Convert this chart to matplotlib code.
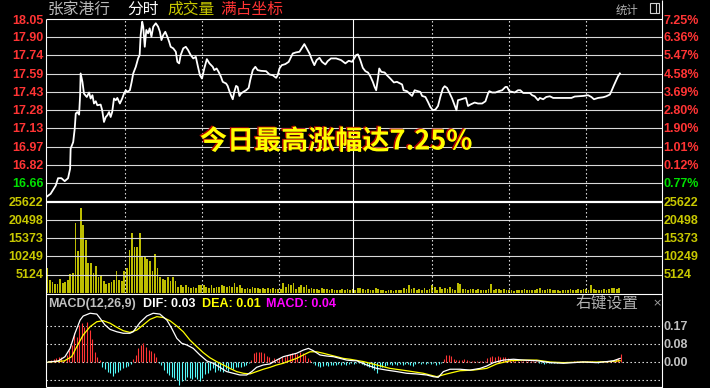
import numpy as np
import matplotlib
matplotlib.use('Agg')
import matplotlib.pyplot as plt
import matplotlib.patheffects as pe
from matplotlib.lines import Line2D
from matplotlib.patches import Rectangle

# ---------------- data ----------------
price_labels = ['18.05', '17.90', '17.74', '17.59', '17.43', '17.28', '17.13', '16.97', '16.82', '16.66']
pct_labels = ['7.25%', '6.36%', '5.47%', '4.58%', '3.69%', '2.80%', '1.90%', '1.01%', '0.12%', '0.77%']
vol_labels = ['25622', '20498', '15373', '10249', '5124']
macd_labels = ['0.17', '0.08', '0.00']

price_min = [0, 1.8, 3.8, 4.7, 6.0, 7.3, 8.6, 9.4, 9.6, 10.6, 11.2, 11.6, 12.2, 12.9, 13.3, 13.5,
             14.2, 14.8, 15.9, 16.8, 17.4, 18.1, 18.7, 19.4, 20.0, 21.3, 21.9, 22.6, 23.3, 23.9,
             24.6, 25.2, 25.8, 26.5, 27.2, 27.8, 28.8, 29.7, 30.4, 31.1, 31.7, 32.7, 33.4, 34.0,
             35.0, 35.9, 36.5, 36.9, 37.5, 37.9, 38.5, 39.1, 39.8, 40.4, 41.1, 41.8, 42.8, 43.7,
             44.4, 45.0, 45.7, 46.5, 47.3, 48.0, 48.6, 49.6, 50.6, 51.2, 51.9, 52.5, 53.5, 54.5,
             55.4, 56.4, 57.4, 58.4, 59.1, 60.0, 60.8, 61.7, 62.7, 63.7, 65.0, 65.6, 66.5, 67.3,
             68.2, 68.9, 70.2, 70.8, 71.5, 72.1, 72.8, 73.4, 74.1, 74.7, 75.4, 76.0, 76.9, 78.0,
             79.0, 79.6, 80.6, 81.6, 82.5, 83.8, 85.8, 87.1, 88.4, 89.7, 90.3, 91.0, 91.9, 93.3,
             94.6, 96.2, 97.5, 98.8, 99.8, 100.7, 101.6, 102.7, 103.7, 104.6, 105.5, 106.6, 107.6,
             108.9, 109.8, 111.1, 113.1, 115.0, 116.7, 118.0, 119.3, 120.2, 120.9, 121.6, 122.5,
             123.5, 124.5, 125.5, 126.4, 127.4, 128.1, 128.7, 129.4, 129.9, 130.7, 132.0, 132.9,
             134.2, 135.6, 136.8, 138.1, 138.8, 139.4, 140.7, 142.0, 142.7, 143.7, 145.0, 145.9,
             146.6, 147.9, 148.9, 149.8, 150.8, 151.8, 152.8, 153.7, 154.7, 155.4, 156.3, 157.2,
             158.3, 159.3, 160.0, 160.6, 161.5, 162.8, 163.7, 164.5, 165.4, 167.1, 168.4, 170.0,
             171.3, 172.3, 172.8, 173.9, 175.2, 176.5, 177.8, 179.1, 179.7, 180.6, 181.7, 182.7,
             184.0, 184.9, 186.0, 188.6, 189.5, 190.5, 191.8, 192.5, 193.8, 195.0, 196.4, 197.7,
             204.8, 206.1, 209.4, 211.3, 212.6, 213.6, 215.2, 217.2, 218.4, 219.8, 220.4, 221.4,
             222.3, 223.0, 223.7]
price_val = [16.544, 16.573, 16.643, 16.705, 16.705, 16.680, 16.705, 16.785, 16.954, 17.010, 17.124,
             17.251, 17.264, 17.242, 17.406, 17.590, 17.519, 17.420, 17.391, 17.429, 17.378, 17.406,
             17.336, 17.355, 17.321, 17.327, 17.279, 17.180, 17.222, 17.236, 17.264, 17.222, 17.264,
             17.378, 17.364, 17.383, 17.336, 17.378, 17.420, 17.448, 17.434, 17.448, 17.519, 17.590,
             17.646, 17.717, 17.745, 17.914, 18.027, 17.985, 17.815, 17.957, 17.929, 17.971, 17.900,
             17.985, 18.014, 17.985, 17.942, 17.872, 17.914, 17.942, 17.900, 17.858, 17.815, 17.802,
             17.773, 17.688, 17.675, 17.745, 17.802, 17.815, 17.787, 17.745, 17.717, 17.730, 17.660,
             17.575, 17.547, 17.632, 17.711, 17.675, 17.646, 17.618, 17.632, 17.603, 17.561, 17.519,
             17.505, 17.485, 17.440, 17.406, 17.372, 17.434, 17.485, 17.476, 17.400, 17.420, 17.434,
             17.448, 17.468, 17.533, 17.618, 17.646, 17.618, 17.612, 17.609, 17.581, 17.575, 17.553,
             17.575, 17.632, 17.660, 17.669, 17.688, 17.759, 17.768, 17.773, 17.807, 17.838, 17.802,
             17.759, 17.703, 17.660, 17.703, 17.722, 17.688, 17.666, 17.694, 17.717, 17.717, 17.703,
             17.675, 17.697, 17.688, 17.720, 17.745, 17.751, 17.703, 17.637, 17.609, 17.598, 17.567,
             17.519, 17.476, 17.448, 17.547, 17.632, 17.603, 17.598, 17.575, 17.547, 17.514, 17.519,
             17.505, 17.497, 17.448, 17.440, 17.414, 17.400, 17.448, 17.440, 17.434, 17.400, 17.391,
             17.349, 17.307, 17.279, 17.285, 17.315, 17.391, 17.463, 17.482, 17.468, 17.429, 17.378,
             17.321, 17.279, 17.364, 17.369, 17.378, 17.383, 17.315, 17.327, 17.344, 17.336, 17.336,
             17.355, 17.420, 17.440, 17.429, 17.429, 17.440, 17.448, 17.476, 17.476, 17.440, 17.434,
             17.429, 17.448, 17.448, 17.425, 17.425, 17.406, 17.397, 17.364, 17.383, 17.372, 17.391,
             17.397, 17.383, 17.383, 17.395, 17.400, 17.406, 17.391, 17.372, 17.383, 17.389, 17.397,
             17.412, 17.440, 17.491, 17.533, 17.567, 17.590]

volume = [7100, 3500, 3000, 2360, 2360, 4000, 2800, 3000, 3700, 5200, 5500, 19700, 11850, 23700,
          19150, 14900, 8350, 8350, 5500, 7400, 4550, 4850, 3300, 2550, 2650, 3000, 3700, 6050,
          3700, 3300, 6150, 7100, 12050, 16800, 12800, 12800, 16800, 10250, 10250, 9500, 9000,
          6150, 10900, 7100, 4550, 4000, 3700, 4300, 3300, 4300, 3300, 1700, 2100, 1700, 2100,
          1700, 1400, 1700, 1400, 2100, 2100, 2100,
          1700, 1400, 2100, 1400, 1700, 1700, 2100, 1900, 1700, 1900, 1700, 2850, 1700, 2100,
          1400, 1150, 1400, 950, 1700, 1400, 1400, 1150, 1300, 950, 1300, 950, 1300, 1150, 950,
          1150, 2650, 1700, 2400, 2100, 2650, 1150, 1700, 2100, 1700, 2100, 950, 1400, 950, 1150,
          750, 1300, 950, 1150, 750, 1150, 750, 750, 750, 950, 750, 950, 750, 1150, 750, 1400,
          1300, 1150, 750, 1150, 750, 750, 1400, 1150, 750, 750, 500, 750, 750, 500, 750, 750,
          750, 1300, 1150, 2100, 950, 1400, 750, 1150, 750, 1400, 750, 1150, 2100, 1700, 750,
          1700, 950, 1400, 1150, 1700, 950, 750, 2650, 2400, 950, 1150, 750, 1150, 950, 750, 950,
          750, 750, 750, 950, 2400, 750, 1150, 950, 750, 950, 750, 750, 750, 600, 750, 750, 750,
          950, 750, 750, 750, 750, 950, 1300, 750, 750, 950, 1150, 750, 750, 750, 600, 750, 750,
          750, 950, 750, 750, 950, 750, 950, 950, 750, 2250, 950, 750, 750, 750, 950, 750, 1150,
          1400, 1300, 950, 1300]

dif_min = [0.9, 4.8, 7.4, 9.4, 11.3, 13.3, 14.5, 17.2, 19.8, 21.1, 23.0, 25.0, 27.6, 30.1, 32.7,
           34.0, 36.6, 39.3, 41.8, 44.4, 47.1, 49.0, 51.0, 52.9, 54.9, 57.4, 60.0, 62.7, 65.2,
           67.8, 70.4, 73.0, 75.6, 78.2, 80.2, 82.1, 84.7, 87.3, 89.9, 92.5, 95.1, 97.7, 100.3,
           102.3, 104.2, 106.8, 109.4, 112.0, 114.6, 117.2, 119.8, 121.1, 125.0, 128.9, 132.8,
           136.7, 140.6, 144.5, 148.4, 151.0, 152.9, 154.9, 157.5, 161.4, 165.3, 169.2, 171.8,
           174.4, 178.3, 182.2, 186.1, 191.3, 196.5, 201.7, 205.6, 209.5, 214.7, 218.6, 221.2, 223.8]
dif_val = [0, 0.005, 0.025, 0.064, 0.135, 0.197, 0.216, 0.229, 0.225, 0.205, 0.174, 0.153, 0.142,
           0.135, 0.135, 0.142, 0.185, 0.216, 0.229, 0.225, 0.197, 0.158, 0.111, 0.088, 0.080,
           0.064, 0.033, 0.005, -0.006, -0.025, -0.045, -0.053, -0.061, -0.061, -0.045, -0.025,
           -0.014, -0.009, 0.009, 0.025, 0.033, 0.041, 0.056, 0.064, 0.053, 0.033, 0.028, 0.025,
           0.017, 0.009, 0.006, 0.006, -0.014, -0.030, -0.038, -0.045, -0.053, -0.056, -0.061,
           -0.069, -0.072, -0.045, -0.034, -0.034, -0.038, -0.030, -0.019, -0.003, 0.009, 0.013,
           0.009, 0.006, -0.003, -0.006, -0.003, 0.0, -0.003, 0.002, 0.006, 0.017]

dea_min = [0.9, 7.1, 10.0, 12.0, 14.5, 17.2, 19.8, 22.3, 25.0, 27.6, 30.1, 32.7, 35.4, 37.9, 40.5,
           43.2, 45.7, 48.3, 51.0, 53.5, 56.1, 58.8, 61.3, 63.9, 66.5, 69.1, 71.7, 74.3, 76.9,
           79.5, 82.1, 84.7, 87.3, 89.9, 92.5, 95.1, 97.7, 100.3, 102.9, 105.5, 108.1, 110.7,
           113.3, 115.9, 118.5, 123.7, 128.9, 134.1, 140.6, 147.1, 152.3, 156.2, 161.4, 166.6,
           171.8, 175.7, 180.9, 186.1, 191.3, 196.5, 201.7, 209.5, 214.7, 219.9, 223.8]
dea_val = [0, 0.005, 0.025, 0.072, 0.127, 0.166, 0.189, 0.194, 0.182, 0.163, 0.147, 0.139, 0.150,
           0.174, 0.200, 0.213, 0.209, 0.194, 0.169, 0.142, 0.103, 0.072, 0.044, 0.020, 0.002,
           -0.014, -0.030, -0.045, -0.053, -0.056, -0.045, -0.034, -0.025, -0.014, -0.006, 0.006,
           0.017, 0.033, 0.048, 0.048, 0.041, 0.033, 0.025, 0.017, 0.013, 0.002, -0.014, -0.030,
           -0.041, -0.053, -0.069, -0.056, -0.041, -0.038, -0.030, -0.009, 0.006, 0.009, 0.009,
           0.0, -0.003, 0.0, 0.0, 0.002, 0.006]

macd_hist = [0.005, 0.009, 0.013, 0.017, 0.025, 0.025, 0.009, 0.033, 0.056, 0.080, 0.135, 0.119,
             0.174, 0.182, 0.166, 0.189, 0.150, 0.106, 0.049, 0.025, 0.009, -0.025, -0.034, -0.045,
             -0.053, -0.066, -0.053, -0.045, -0.038, -0.030, -0.025, -0.019, -0.009, 0.012, 0.033,
             0.064, 0.080, 0.091, 0.072, 0.056, 0.053, 0.041, 0.025, -0.003, -0.014, -0.038, -0.050,
             -0.061, -0.072, -0.077, -0.085, -0.108, -0.088, -0.085, -0.072, -0.077, -0.081, -0.072,
             -0.081, -0.088, -0.077, -0.056, -0.053, -0.038, -0.030, -0.045, -0.038, -0.041, -0.045,
             -0.034, -0.041, -0.030, -0.034, -0.025, -0.025, -0.022, -0.019, -0.014, -0.006, 0.009,
             0.041, 0.045, 0.049, 0.045, 0.041, 0.028, 0.025, 0.009, 0.017, 0.009, 0.017, 0.025,
             0.025, 0.033, 0.038, 0.044, 0.041, 0.038, 0.049, 0.041, 0.033, 0.017, 0.009, -0.006,
             -0.014, -0.019, -0.022, -0.019, -0.014, -0.019, -0.016, -0.013, -0.014, -0.009, -0.014,
             -0.009, -0.014, -0.009, -0.006, -0.009, -0.003,
             -0.006, -0.009, -0.014, -0.019, -0.022, -0.030, -0.038, -0.050, -0.025, -0.022, -0.019,
             -0.014, -0.009, -0.014, -0.009, -0.014, -0.009, -0.014, -0.009, -0.009, -0.014, -0.019,
             -0.009, -0.006, -0.009, -0.006, -0.009, -0.006, -0.009, -0.006, -0.014, -0.009, -0.006,
             0.013, 0.033, 0.033, 0.028, 0.013, 0.009, 0.009, 0.009, 0.013, 0.009, 0.006, 0.006,
             0.006, 0.006, 0.006, 0.006, 0.006, 0.017, 0.025, 0.028, 0.025, 0.028, 0.025, 0.025,
             0.025, 0.017, 0.013, 0.009, 0.006, 0.006, 0.005, 0.003, 0.003, 0.003, 0.003, 0.003,
             0.003, -0.003, -0.006, -0.009, -0.006, -0.003, -0.003, -0.003, -0.003, -0.002, -0.002,
             -0.002, -0.002, -0.002, -0.001, 0.003, 0.003, 0.003, 0.003, 0.003, 0.005, 0.003,
             0.003, 0.0, -0.003, 0.003, 0.003, 0.003, 0.003, 0.003, 0.006, 0.013, 0.017, 0.038]

# ---------------- layout ----------------
W, H = 710, 388
fig = plt.figure(figsize=(W / 100, H / 100), dpi=100, facecolor='black')


def fx(px):
    return px / W


def fy(py):
    return 1 - py / H


X0, X1 = 46, 661.7
P_TOP, P_BOT = 19, 201.5
V_TOP, V_BOT = 201.5, 292.8
M_TOP, M_BOT = 292.8, 386.7


def make_ax(top, bottom):
    ax = fig.add_axes([fx(X0), fy(bottom), (X1 - X0) / W, (bottom - top) / H])
    ax.set_axis_off()
    ax.set_xlim(0, 240)
    return ax


GRID = '#d8d8d8'
RED = '#ff3434'
GREEN = '#00e000'
OLIVE = '#c8c800'
GRAY = '#c0c0c0'
NUMFONT = dict(family='Liberation Sans', weight='bold', size=9)
CJK = ['Noto Sans CJK SC', 'DejaVu Sans']

vlines_dotted = [30.8, 60.8, 90.9, 150.6, 180.6, 210.6]
v_mid = 119.8

# ---- price panel ----
axp = make_ax(P_TOP, P_BOT)
step = 0.1542
axp.set_ylim(18.05 - 10 * step, 18.05)
for k in range(1, 10):
    axp.axhline(18.05 - k * step, color=GRID, lw=0.8)
for v in vlines_dotted:
    axp.axvline(v, color='white', lw=0.8, dashes=(1.2, 2.4))
axp.axvline(v_mid, color='white', lw=0.8)
axp.plot(price_min, price_val, color='white', lw=1.3, solid_joinstyle='round')

for k, (pl, cl) in enumerate(zip(price_labels, pct_labels)):
    ypix = P_TOP + k * 18.25 + 0.8
    if k == 0:
        ypix = 21.5
    col = GREEN if k == 9 else RED
    fig.text(fx(43.5), fy(ypix), pl, ha='right', va='center', color=col, **NUMFONT)
    fig.text(fx(663.5), fy(ypix), cl, ha='left', va='center', color=col, **NUMFONT)

# ---- volume panel ----
axv = make_ax(V_TOP, V_BOT)
axv.set_ylim(0, 25622)
for k in range(1, 5):
    axv.axhline(25622 - k * 5124.4, color=GRID, lw=0.8)
for v in vlines_dotted:
    axv.axvline(v, color='white', lw=0.8, dashes=(1.2, 2.4))
axv.axvline(v_mid, color='white', lw=0.8)
vx = np.arange(len(volume)) + 0.5
axv.bar(vx, volume, width=0.68, color='#bcbc00', linewidth=0)
for k, lab in enumerate(vol_labels):
    ypix = V_TOP + k * 18.2 + 1.0
    fig.text(fx(43.5), fy(ypix), lab, ha='right', va='center', color=OLIVE, **NUMFONT)
    fig.text(fx(663.5), fy(ypix), lab, ha='left', va='center', color=OLIVE, **NUMFONT)

# ---- MACD panel ----
axm = make_ax(M_TOP, M_BOT)
axm.set_ylim(-0.116, 0.325)
for g in [0.1708, 0.0854, 0.0, -0.0854]:
    axm.axhline(g, color='white', lw=0.8, dashes=(1.2, 2.4))
hx = np.arange(len(macd_hist)) + 1.0
hv = np.array(macd_hist)
cols = np.where(hv >= 0, '#ff3434', '#54fcfc')
axm.vlines(hx, 0, hv, colors=cols, lw=0.8)
axm.plot(dea_min, dea_val, color='#ffff00', lw=0.9)
axm.plot(dif_min, dif_val, color='white', lw=0.9)
for lab, ypix in zip(macd_labels, [326.5, 344.5, 362.8]):
    fig.text(fx(663.5), fy(ypix), lab, ha='left', va='center', color=GRAY, **NUMFONT)


# ---- borders ----
def fline(x0, y0, x1, y1, lw=0.8, color='white'):
    fig.add_artist(Line2D([fx(x0), fx(x1)], [fy(y0), fy(y1)], transform=fig.transFigure,
                          color=color, lw=lw, solid_capstyle='butt'))


fline(X0, P_TOP, X1, P_TOP)
fline(X0, P_TOP, X0, M_BOT)
fline(X1, 0, X1, H)
fline(X0, 201.5, X1, 201.5, lw=1.6)
fline(X0, 293.5, X1, 293.5)
fline(X0, M_BOT, X1, M_BOT)

# ---- header texts ----
fig.text(fx(48), fy(9.5), '张家港行', family=CJK, size=11.3, color='#b8b8b8', va='center', ha='left')
fig.text(fx(127), fy(9.5), '分时', family=CJK, size=11.3, color='white', va='center', ha='left')
fig.text(fx(167), fy(9.5), '成交量', family=CJK, size=11.3, color=OLIVE, va='center', ha='left')
fig.text(fx(220), fy(9.5), '满占坐标', family=CJK, size=11.3, color=RED, va='center', ha='left')
fig.text(fx(616), fy(10), '统计', family=CJK, size=8.2, color='#b0b0b0', va='center', ha='left')
fig.add_artist(Rectangle((fx(649.5), fy(13.3)), fx(9.5), 10.5 / H, transform=fig.transFigure,
                         fill=False, edgecolor='#d0d0d0', lw=0.8))
fline(655.5, 3, 655.5, 13.3, color='#d0d0d0')

# MACD header
fig.text(fx(48), fy(304), 'MACD(12,26,9)', color=GRAY, va='center', ha='left', **NUMFONT)
fig.text(fx(143), fy(304), 'DIF: 0.03', color='white', va='center', ha='left', **NUMFONT)
fig.text(fx(202), fy(304), 'DEA: 0.01', color='#ffff00', va='center', ha='left', **NUMFONT)
fig.text(fx(265.5), fy(304), 'MACD: 0.04', color='#ff00ff', va='center', ha='left', **NUMFONT)
fig.text(fx(576), fy(303.5), '右键设置', family=CJK, size=11.3, color='#b0b0b0', va='center', ha='left')
fig.text(fx(652), fy(303.5), '×', family='DejaVu Sans', size=8, color='#a0a0a0', va='center', ha='left')

# big headline
fig.text(fx(200), fy(141.5), '今日最高涨幅达7.25%', family=CJK, weight='bold', size=19.5,
         color='#ffff00', va='center', ha='left',
         path_effects=[pe.withSimplePatchShadow(offset=(-1, 0.6), shadow_rgbFace='#b00000', alpha=1.0)])

fig.savefig('out.png', dpi=100, facecolor='black')
